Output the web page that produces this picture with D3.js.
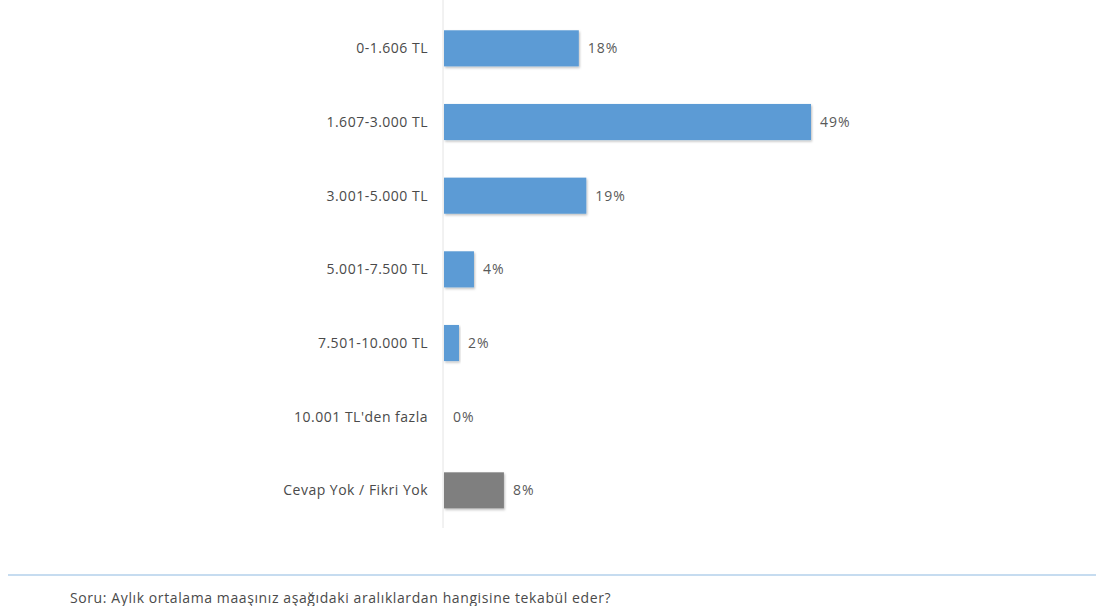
<!DOCTYPE html>
<html>
<head>
<meta charset="utf-8">
<script src="https://cdnjs.cloudflare.com/ajax/libs/d3/7.8.5/d3.min.js"></script>
<style>
  html, body { margin: 0; padding: 0; background: #ffffff; }
  svg { display: block; }
  text { font-family: "Open Sans", "Liberation Sans", sans-serif; }
</style>
</head>
<body>
<svg id="chart" width="1096" height="606"></svg>
<script>
// Monthly salary brackets and share of respondents (%)
const categories = [
  "0-1.606 TL",
  "1.607-3.000 TL",
  "3.001-5.000 TL",
  "5.001-7.500 TL",
  "7.501-10.000 TL",
  "10.001 TL'den fazla",
  "Cevap Yok / Fikri Yok"
];
const values = [18, 49, 19, 4, 2, 0, 8];
const noAnswer = "Cevap Yok / Fikri Yok";
const question = "Soru: Aylık ortalama maaşınız aşağıdaki aralıklardan hangisine tekabül eder?";

const svg = d3.select("#chart");
const x0 = 443;

const x = d3.scaleLinear().domain([0, 49]).range([x0, 810]);
const y = d3.scaleBand()
  .domain(categories)
  .range([11.5, 527.2])
  .paddingInner(0.51)
  .paddingOuter(0.255);

const defs = svg.append("defs");
const f = defs.append("filter").attr("id", "shadow")
  .attr("x", "-5%").attr("y", "-20%").attr("width", "115%").attr("height", "150%");
f.append("feDropShadow").attr("dx", 1).attr("dy", 1.5).attr("stdDeviation", 1.2)
  .attr("flood-color", "#000").attr("flood-opacity", 0.25);

// category axis line
svg.append("line")
  .attr("x1", x0).attr("x2", x0)
  .attr("y1", 0).attr("y2", 528)
  .attr("stroke", "#e4e4e4").attr("stroke-width", 1);

const rows = categories.map((c, i) => ({ c, v: values[i] }));

svg.append("g").selectAll("rect")
  .data(rows.filter(d => d.v > 0))
  .join("rect")
  .attr("x", x0 + 1)
  .attr("y", d => y(d.c))
  .attr("width", d => x(d.v) - x0)
  .attr("height", y.bandwidth())
  .attr("fill", d => d.c === noAnswer ? "#7f7f7f" : "#5b9bd5")
  .attr("filter", "url(#shadow)");

// category labels
svg.append("g").selectAll("text")
  .data(rows)
  .join("text")
  .attr("x", 428)
  .attr("y", d => y(d.c) + y.bandwidth() / 2)
  .attr("dy", "0.35em")
  .attr("text-anchor", "end")
  .attr("font-size", 14)
  .attr("letter-spacing", 0.5)
  .attr("fill", "#4a4a4a")
  .text(d => d.c);

// value labels
svg.append("g").selectAll("text")
  .data(rows)
  .join("text")
  .attr("x", d => x(d.v) + 10)
  .attr("y", d => y(d.c) + y.bandwidth() / 2)
  .attr("dy", "0.35em")
  .attr("font-size", 14)
  .attr("letter-spacing", 1)
  .attr("fill", "#595959")
  .text(d => d.v + "%");

// footer separator and question text
svg.append("line")
  .attr("x1", 8).attr("x2", 1096)
  .attr("y1", 575).attr("y2", 575)
  .attr("stroke", "#c6dcf0").attr("stroke-width", 2);

svg.append("text")
  .attr("x", 70).attr("y", 603)
  .attr("font-size", 14)
  .attr("letter-spacing", 0.6)
  .attr("fill", "#4a4a4a")
  .text(question);
</script>
</body>
</html>
